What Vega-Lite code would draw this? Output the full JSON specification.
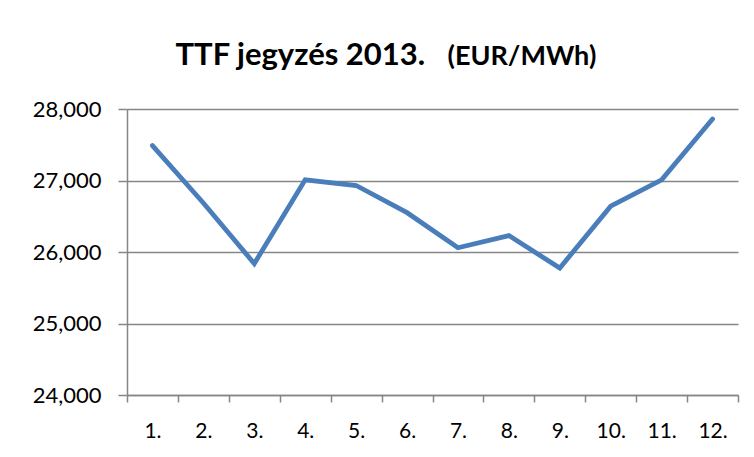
{
  "$schema": "https://vega.github.io/schema/vega-lite/v6.json",
  "autosize": "none",
  "width": 611,
  "height": 286,
  "padding": {"left": 127, "top": 109, "right": 16, "bottom": 62},
  "background": "white",
  "data": {
    "values": [
      {"month": "1.", "price": 27488},
      {"month": "2.", "price": 26685},
      {"month": "3.", "price": 25838},
      {"month": "4.", "price": 27010},
      {"month": "5.", "price": 26930},
      {"month": "6.", "price": 26550},
      {"month": "7.", "price": 26060},
      {"month": "8.", "price": 26230},
      {"month": "9.", "price": 25776},
      {"month": "10.", "price": 26640},
      {"month": "11.", "price": 27010},
      {"month": "12.", "price": 27860}
    ]
  },
  "mark": {"type": "line", "color": "#4A7EBB", "strokeWidth": 4.8, "strokeCap": "round", "strokeJoin": "miter"},
  "encoding": {
    "x": {
      "field": "month",
      "type": "ordinal",
      "sort": null,
      "scale": {"paddingInner": 0, "paddingOuter": 0},
      "axis": {
        "title": "TTF jegyzés 2013.",
        "titleX": 48,
        "titleY": -331,
        "titleAlign": "left",
        "titleBaseline": "alphabetic",
        "titleAngle": 0,
        "titleFont": "Lato",
        "titleFontSize": 31,
        "titleFontWeight": "bold",
        "titleColor": "#000000",
        "labelAngle": 0,
        "labelFont": "Lato",
        "labelFontSize": 21,
        "labelColor": "#000000",
        "labelPadding": 18,
        "domainColor": "#868686",
        "domainWidth": 1.5,
        "tickColor": "#868686",
        "tickWidth": 1.5,
        "tickSize": 7,
        "tickBand": "extent",
        "grid": false
      }
    },
    "y": {
      "field": "price",
      "type": "quantitative",
      "scale": {"domain": [24000, 28000], "nice": false, "zero": false},
      "axis": {
        "values": [24000, 25000, 26000, 27000, 28000],
        "format": ",.0f",
        "title": "(EUR/MWh)",
        "titleAngle": 0,
        "titleX": 320,
        "titleY": -45,
        "titleAlign": "left",
        "titleBaseline": "alphabetic",
        "titleFont": "Lato",
        "titleFontSize": 27,
        "titleFontWeight": "bold",
        "titleColor": "#000000",
        "labelFont": "Lato",
        "labelFontSize": 22,
        "labelColor": "#000000",
        "labelPadding": 17,
        "domainColor": "#868686",
        "domainWidth": 1.5,
        "tickColor": "#868686",
        "tickWidth": 1.5,
        "tickSize": 9,
        "grid": true,
        "gridColor": "#868686",
        "gridWidth": 1.5
      }
    }
  },
  "config": {"view": {"stroke": null}}
}
